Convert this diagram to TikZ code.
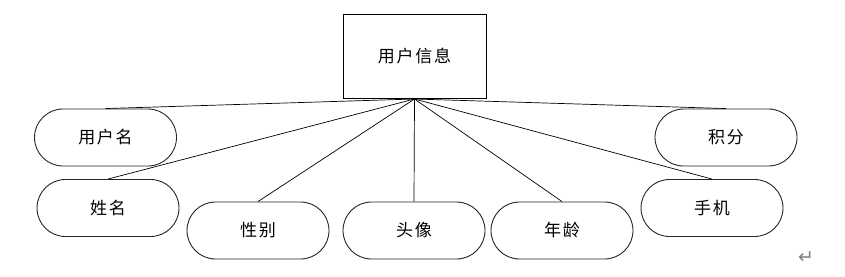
\documentclass[tikz,border=0pt]{standalone}
\usepackage{fontspec}
\newfontfamily\cjk[LetterSpace=10]{Noto Sans CJK SC}
\newfontfamily\dejavu{DejaVu Sans}
\begin{document}
\begin{tikzpicture}[x=1pt,y=-1pt,
  every node/.style={font=\cjk\fontsize{17}{19}\selectfont, text=black, inner sep=0pt},
  entity/.style={draw=black, line width=0.9pt, minimum width=143pt, minimum height=84pt},
  attr/.style={draw=black!85, line width=0.9pt, minimum width=142pt, minimum height=57pt, rounded corners=28.5pt},
  link/.style={draw=black, line width=0.7pt}]
\useasboundingbox (0,0) rectangle (845,276);
\node[entity] (top) at (414.5,56) {用户信息};
\node[attr] (a1) at (105.5,137.5) {用户名};
\node[attr] (a2) at (108,208) {姓名};
\node[attr] (a3) at (258,230.5) {性别};
\node[attr] (a4) at (414,230.5) {头像};
\node[attr] (a5) at (562,230.5) {年龄};
\node[attr] (a6) at (712,208) {手机};
\node[attr] (a7) at (726,137.5) {积分};
\coordinate (hub) at (414.5,99);
\foreach \n in {a1,a2,a3,a4,a5,a6,a7} \draw[link] (hub) -- (\n.north);
\node[font=\dejavu\fontsize{19}{19}\selectfont, text=black!50] (ret) at (806,258) {↵};
\end{tikzpicture}
\end{document}
